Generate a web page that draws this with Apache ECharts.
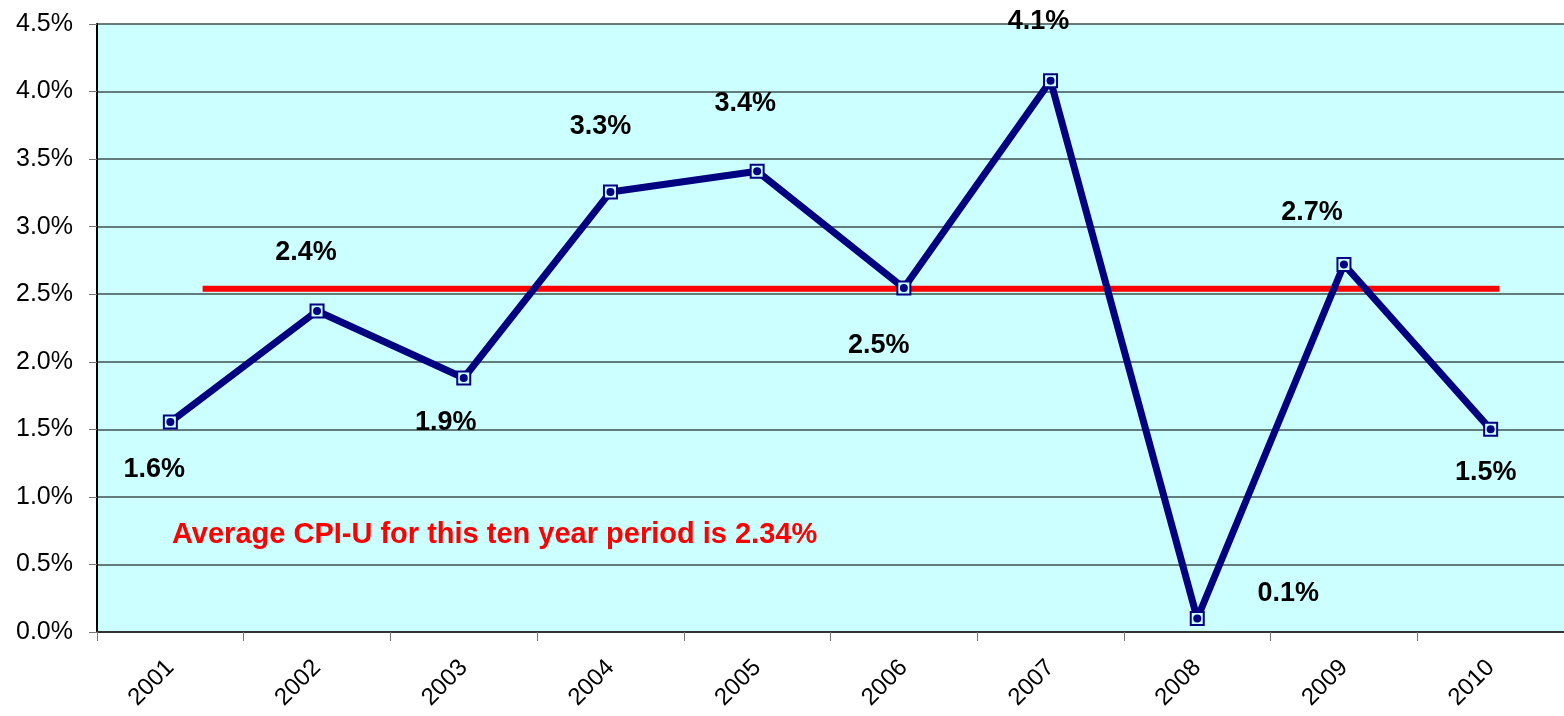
<!DOCTYPE html>
<html><head><meta charset="utf-8">
<script src="https://cdn.jsdelivr.net/npm/echarts@6/dist/echarts.min.js"></script>
<style>html,body{margin:0;padding:0;background:#fff}#c{width:1564px;height:716px}</style>
</head><body><div id="c"></div>
<script>
const years = ['2001','2002','2003','2004','2005','2006','2007','2008','2009','2010'];
const cpi = [1.554, 2.376, 1.88, 3.257, 3.41, 2.546, 4.08, 0.10, 2.72, 1.50];
const avgLineX = [0.72, 9.56];
const avgLineY = [2.54, 2.54];
const yTicks = ['0.0%','0.5%','1.0%','1.5%','2.0%','2.5%','3.0%','3.5%','4.0%','4.5%'];
const note = 'Average CPI-U for this ten year period is 2.34%';

const labelOffsets = [[-16,48],[-11,-58],[-18,45],[-10,-65],[-12,-68],[-25,58],[-12,-59],[91,-25],[-32,-52],[-5,43]];

const chart = echarts.init(document.getElementById('c'));
chart.setOption({
  animation: false,
  backgroundColor: '#fff',
  title: {
    text: note, left: 172, top: 520, padding: 0,
    textStyle: {color: '#ff0000', fontFamily: 'Liberation Sans, Arial', fontWeight: 'bold', fontSize: 29}
  },
  grid: {left: 97, right: 0, top: 24, bottom: 84, show: true, backgroundColor: '#ccffff', borderColor: '#c0c0c0', borderWidth: 0},
  xAxis: [{
    type: 'category', data: years, boundaryGap: true,
    axisLine: {lineStyle: {color: '#333', width: 2}},
    axisTick: {show: true, length: 9, lineStyle: {color: '#777', width: 1}},
    axisLabel: {rotate: 45, fontSize: 24, color: '#000', fontFamily: 'Liberation Sans, Arial', margin: 32},
    splitLine: {show: false}
  }, {
    type: 'value', min: 0, max: 10, show: false
  }],
  yAxis: {
    type: 'value', min: 0, max: 4.5, interval: 0.5,
    axisLine: {show: true, lineStyle: {color: '#000', width: 2}},
    axisTick: {show: true, length: 8, lineStyle: {color: '#777'}},
    axisLabel: {fontSize: 25, color: '#000', fontFamily: 'Liberation Sans, Arial', margin: 24,
      formatter: (v) => yTicks[Math.round(v / 0.5)]},
    splitLine: {show: true, lineStyle: {color: '#3f4f4f', width: 1.5}}
  },
  series: [{
    type: 'line', xAxisIndex: 1, yAxisIndex: 0,
    data: avgLineX.map((x, i) => [x, avgLineY[i]]),
    symbol: 'none', lineStyle: {color: '#ff0000', width: 6}, z: 3, silent: true
  }, {
    type: 'line', data: cpi.map((v, i) => ({
      value: v,
      label: {offset: labelOffsets[i]}
    })),
    lineStyle: {color: '#000080', width: 7},
    symbol: 'rect', symbolSize: 13,
    itemStyle: {color: '#ccffff', borderColor: '#000080', borderWidth: 2},
    z: 4,
    label: {
      show: true, position: 'inside', color: '#000', fontWeight: 'bold', fontSize: 27,
      fontFamily: 'Liberation Sans, Arial',
      formatter: (p) => p.value.toFixed(1) + '%'
    }
  }, {
    type: 'line', data: cpi, symbol: 'circle', symbolSize: 8,
    lineStyle: {width: 0, opacity: 0}, itemStyle: {color: '#000080'}, z: 5, silent: true
  }]
});
</script></body></html>
